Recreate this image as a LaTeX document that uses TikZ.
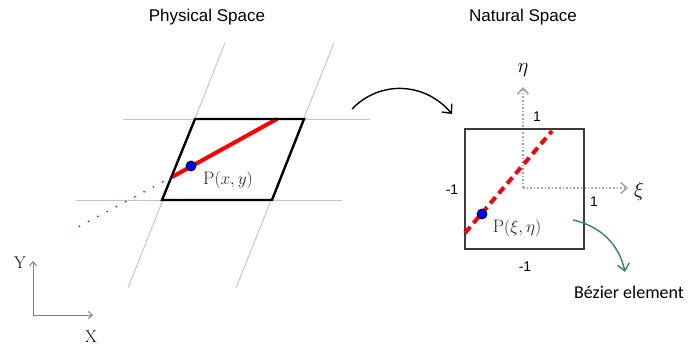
\documentclass[tikz,border=0pt]{standalone}
\usepackage{fontspec}
\setsansfont{Liberation Sans}
\newfontfamily\calfont{Carlito}
\usepackage{tikz}
\usetikzlibrary{arrows.meta,positioning}
\definecolor{gridg}{HTML}{C4C4C4}
\definecolor{axg}{HTML}{A6A6A6}
\definecolor{redl}{HTML}{FF0000}
\definecolor{bluep}{HTML}{0000FF}
\definecolor{grnarr}{HTML}{2E8B57}
\definecolor{boxg}{HTML}{3C3C3C}
\tikzset{
  title/.style={font=\sffamily\fontsize{17}{20}\selectfont, inner sep=1pt},
  num/.style={font=\sffamily\fontsize{14}{16}\selectfont, inner sep=1pt},
  ptxt/.style={font=\fontsize{18}{21}\selectfont, text=black!85, inner sep=1pt},
  greek/.style={font=\fontsize{22}{25}\selectfont, inner sep=1pt},
  xylbl/.style={font=\fontsize{17}{20}\selectfont, inner sep=1pt},
  gridln/.style={draw=gridg, line width=0.9pt},
  elem/.style={draw=black, line width=2.4pt, line join=miter},
  natbox/.style={draw=boxg, line width=1.4pt},
  redseg/.style={draw=redl, line width=4pt},
  reddash/.style={draw=redl, line width=4pt, dash pattern=on 8pt off 5pt},
  reddot/.style={draw=redl, line width=2pt, line cap=round, dash pattern=on 0pt off 10.5pt},
  pdot/.style={circle, fill=bluep, draw=black, line width=0.8pt, minimum size=10pt, inner sep=0pt},
  natax/.style={draw=axg, line width=1.6pt, dotted, -{Straight Barb[length=6pt,width=11pt,line width=1.6pt]}},
  xyax/.style={draw=gray, line width=1pt, -{Straight Barb[length=4pt,width=7pt]}},
  maparr/.style={draw=black, line width=1.4pt, -{Straight Barb[length=7pt,width=13pt,line width=1.4pt]}},
  bezarr/.style={draw=grnarr, line width=1.4pt, -{Straight Barb[length=7pt,width=12pt,line width=1.4pt]}},
}

\begin{document}
\begin{tikzpicture}[x=1pt,y=-1pt]
  \useasboundingbox (0,0) rectangle (688,348);
  % titles
  \node[title] (phys) at (207,17) {Physical Space};
  \node[title] (nat) at (523,17) {Natural Space};
  % physical grid
  \coordinate (g1a) at (225,43); \coordinate (g1b) at (128,288);
  \coordinate (g2a) at (334,43); \coordinate (g2b) at (236,288);
  \coordinate (h1a) at (123,119); \coordinate (h1b) at (370,119);
  \coordinate (h2a) at (76,200); \coordinate (h2b) at (342,200);
  \draw[gridln] (g1a) -- (g1b);
  \draw[gridln] (g2a) -- (g2b);
  \draw[gridln] (h1a) -- (h1b);
  \draw[gridln] (h2a) -- (h2b);
  % physical element
  \coordinate (ea) at (195,119); \coordinate (eb) at (304,119);
  \coordinate (ec) at (272,200); \coordinate (ed) at (162,200);
  \coordinate (ra) at (172,177); \coordinate (rb) at (277,119);
  \coordinate (rc) at (76,228);
  \draw[reddot] (ra) -- (rc);
  \draw[redseg] (ra) -- (rb);
  \draw[elem] (ea) -- (eb) -- (ec) -- (ed) -- cycle;
  \node[pdot] (px) at (191,166) {};
  \node[ptxt] (pxlbl) at (228,180) {$\mathrm{P}(x,y)$};
  % mapping arrow
  \coordinate (ms) at (352,109); \coordinate (me) at (452,114);
  \draw[maparr] (ms) .. controls (380,80) and (425,82) .. (me);
  % natural element
  \coordinate (sqa) at (465,129); \coordinate (sqb) at (584,249);
  \coordinate (org) at (523,188);
  \coordinate (etaend) at (523,87); \coordinate (xiend) at (628,188);
  \draw[natax] (org) -- (etaend);
  \draw[natax] (org) -- (xiend);
  \draw[natbox] (sqa) rectangle (sqb);
  \coordinate (da) at (465,233); \coordinate (db) at (552,131);
  \draw[reddash] (da) -- (db);
  \node[pdot] (pxi) at (482,214) {};
  \node[ptxt] (pxilbl) at (517,228) {$\mathrm{P}(\xi,\eta)$};
  \node[greek] (eta) at (523,70) {$\eta$};
  \node[greek] (xi) at (639,191) {$\xi$};
  \node[num] (etaone) at (537,117) {1};
  \node[num] (xione) at (594,202) {1};
  \node[num] (ximone) at (452,190) {-1};
  \node[num] (etamone) at (525,267) {-1};
  % label arrow
  \coordinate (bs) at (573,220); \coordinate (be) at (625,272);
  \draw[bezarr] (bs) .. controls (600,226) and (619,244) .. (be);
  \node[font=\calfont\fontsize{18}{21}\selectfont, inner sep=1pt] (bez) at (629,292) {Bézier element};
  % X-Y axes
  \coordinate (xyo) at (33,315);
  \coordinate (yend) at (33,261); \coordinate (xend) at (93,315);
  \draw[xyax] (xyo) -- (yend);
  \draw[xyax] (xyo) -- (xend);
  \node[xylbl] (ylbl) at (20,263) {Y};
  \node[xylbl] (xlbl) at (91,337) {X};
\end{tikzpicture}
\end{document}
